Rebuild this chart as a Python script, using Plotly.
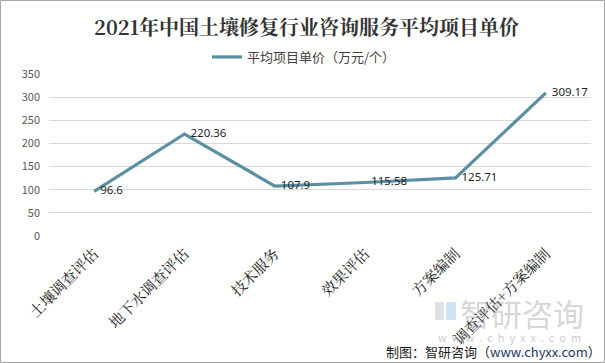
import plotly.graph_objects as go

categories = ["土壤调查评估", "地下水调查评估", "技术服务", "效果评估", "方案编制", "调查评估+方案编制"]
values = [96.6, 220.36, 107.9, 115.58, 125.71, 309.17]
labels = ["96.6", "220.36", "107.9", "115.58", "125.71", "309.17"]
y_ticks = [0, 50, 100, 150, 200, 250, 300, 350]

W, H = 605, 363
L, R, T, B = 49, 14, 74, 127
pw, ph = W - L - R, H - T - B

def px(x):
    return (x - L) / pw

def py(y):
    return (H - B - y) / ph

fig = go.Figure()
fig.add_trace(go.Scatter(
    x=categories, y=values, mode="lines+text",
    name="平均项目单价（万元/个）",
    line=dict(color="#5b8fa3", width=3.2),
    text=["  " + t for t in labels], textposition="middle right",
    textfont=dict(family="Noto Sans, sans-serif", size=11.5, color="#262626"),
    cliponaxis=False,
))

fig.update_layout(
    width=W, height=H,
    margin=dict(l=L, r=R, t=T, b=B, autoexpand=False),
    paper_bgcolor="white", plot_bgcolor="white",
    font=dict(family="Noto Sans CJK SC, sans-serif"),
    title=dict(text="<b>2021年中国土壤修复行业咨询服务平均项目单价</b>",
               x=306.5 / W, xanchor="center", y=1 - 28 / H, yanchor="middle",
               font=dict(family="Noto Serif CJK SC, serif", size=20, color="#333")),
    showlegend=True,
    legend=dict(orientation="h", x=px(207), xanchor="left", y=py(57), yanchor="middle",
                font=dict(size=13, color="#404040"), bgcolor="rgba(0,0,0,0)"),
    xaxis=dict(showgrid=False, showline=False, ticks="", tickangle=-45, automargin=False,
               range=[-0.5, 5.5], ticklabelstandoff=5,
               tickfont=dict(size=15, color="#222", family="Noto Serif CJK SC, serif")),
    yaxis=dict(range=[0, 350], tickvals=y_ticks, showgrid=True, gridcolor="#d9d9d9",
               gridwidth=1, zeroline=False, showline=False, automargin=False,
               ticklabelstandoff=8,
               tickfont=dict(size=11, color="#595959")),
)

# outer border
fig.add_shape(type="rect", xref="paper", yref="paper",
              x0=px(0.5), x1=px(W - 0.5), y0=py(H - 0.5), y1=py(0.5),
              line=dict(color="#a6a6a6", width=1), layer="above")

# watermark logo
fig.add_shape(type="rect", xref="paper", yref="paper",
              x0=px(435), x1=px(444), y0=py(320), y1=py(302),
              line=dict(width=0), fillcolor="rgba(185,195,210,0.5)", layer="below")
fig.add_shape(type="rect", xref="paper", yref="paper",
              x0=px(446), x1=px(456), y0=py(320), y1=py(302),
              line=dict(width=0), fillcolor="rgba(160,200,230,0.5)", layer="below")
fig.add_annotation(xref="paper", yref="paper", x=px(458), y=py(312), xanchor="left", yanchor="middle",
                   text="智研咨询", showarrow=False,
                   font=dict(size=31, color="rgba(150,150,150,0.4)"))
fig.add_annotation(xref="paper", yref="paper", x=px(436), y=py(337), xanchor="left", yanchor="middle",
                   text="w  w  w  .  c  h  y  x  x  .  c  o  m", showarrow=False,
                   font=dict(size=11, color="rgba(150,150,150,0.5)"))

# footer
fig.add_annotation(xref="paper", yref="paper", x=px(603), y=py(351), xanchor="right", yanchor="middle",
                   text="制图：智研咨询（<span style='color:#1f3864'>www.chyxx.com</span>）", showarrow=False,
                   font=dict(size=13, color="#1a1a1a"))

fig.write_html("out.html", config={"displayModeBar": False},
               post_script="document.body.style.margin='0';document.body.style.overflow='hidden';")
